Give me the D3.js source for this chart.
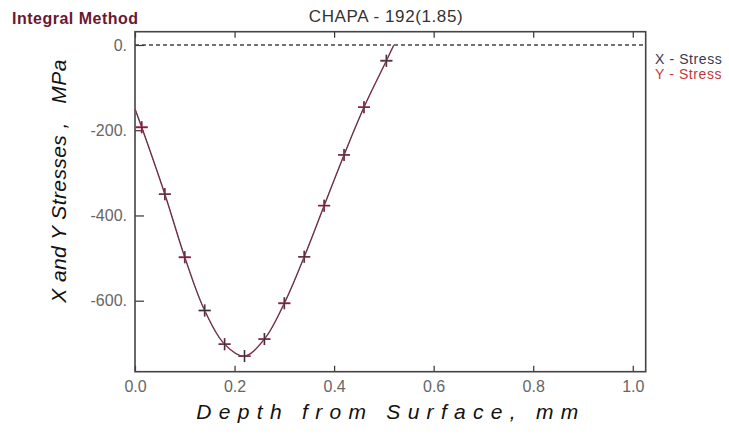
<!DOCTYPE html>
<html>
<head>
<meta charset="utf-8">
<script src="https://cdn.jsdelivr.net/npm/d3@7"></script>
<style>
  body { margin: 0; background: #fff; }
  svg text { font-family: Arial, "Liberation Sans", sans-serif; }
</style>
</head>
<body>
<div id="chart"></div>
<script>
// data
var depth = [0.0135, 0.06, 0.10, 0.14, 0.18, 0.22, 0.26, 0.30, 0.34, 0.38, 0.42, 0.46, 0.505];
var xStress = [-193, -350, -498, -623, -702, -730, -690, -606, -497, -377, -258, -146, -37];
var yStress = [-193, -350, -498, -623, -702, -730, -690, -606, -497, -377, -258, -146, -37];
// fitted curve end points
var curveDepth = [0, 0.52];
var curveStress = [-150, 0];
var xTicks = [0, 0.2, 0.4, 0.6, 0.8, 1.0];
var yTicks = [0, -200, -400, -600];
var legendNames = ["X - Stress", "Y - Stress"];

var svgWidth = 729;
var svgHeight = 434;

var margin = { top: 31.7, right: 83.3, bottom: 62.3, left: 135 };
var width = svgWidth - margin.left - margin.right;
var height = svgHeight - margin.top - margin.bottom;

var svg = d3.select("#chart").append("svg")
    .attr("width", svgWidth)
    .attr("height", svgHeight);

var chartGroup = svg.append("g")
    .attr("transform", `translate(${margin.left}, ${margin.top})`);

var xScale = d3.scaleLinear().domain([0, 1.026]).range([0, width]);
var yScale = d3.scaleLinear().domain([-766.6, 31.2]).range([height, 0]);

// axes with inner ticks
var bottomAxis = d3.axisBottom(xScale).tickValues(xTicks).tickSize(-6).tickFormat(d3.format(".1f")).tickPadding(9);
var topAxis = d3.axisTop(xScale).tickValues(xTicks).tickSize(-6).tickFormat("");
var leftAxis = d3.axisLeft(yScale).tickValues(yTicks).tickSize(-9).tickFormat(d => d + ".").tickPadding(8);

var xAxis = chartGroup.append("g")
    .attr("transform", `translate(0, ${height})`)
    .call(bottomAxis);
chartGroup.append("g").call(topAxis);
var yAxis = chartGroup.append("g").call(leftAxis);

chartGroup.selectAll(".domain").remove();
chartGroup.selectAll(".tick line").attr("stroke", "#333").attr("stroke-width", 1.2);
chartGroup.selectAll(".tick text").attr("fill", "#666").attr("font-size", "16px");

// zero line
chartGroup.append("line")
    .attr("x1", 0).attr("x2", width)
    .attr("y1", yScale(0)).attr("y2", yScale(0))
    .attr("stroke", "#444")
    .attr("stroke-width", 1.5)
    .attr("stroke-dasharray", "4,3");

// frame
chartGroup.append("rect")
    .attr("width", width).attr("height", height)
    .attr("fill", "none")
    .attr("stroke", "#444")
    .attr("stroke-width", 1.6);

// curves through the points
function curvePoints(vals) {
    var pts = [[curveDepth[0], curveStress[0]]];
    depth.forEach((d, i) => pts.push([d, vals[i]]));
    pts.push([curveDepth[1], curveStress[1]]);
    return pts;
}
var line = d3.line()
    .x(d => xScale(d[0]))
    .y(d => yScale(d[1]))
    .curve(d3.curveCatmullRom);

chartGroup.append("path")
    .datum(curvePoints(yStress))
    .attr("d", line)
    .attr("fill", "none")
    .attr("stroke", "#c45a70")
    .attr("stroke-width", 1.5);
chartGroup.append("path")
    .datum(curvePoints(xStress))
    .attr("d", line)
    .attr("fill", "none")
    .attr("stroke", "#3a3238")
    .attr("stroke-width", 0.9);

// cross markers
function crosses(vals, color, w, s) {
    var g = chartGroup.append("g");
    depth.forEach(function(d, i) {
        var cx = xScale(d), cy = yScale(vals[i]);
        g.append("path")
            .attr("d", `M${cx - s},${cy}H${cx + s}M${cx},${cy - s}V${cy + s}`)
            .attr("stroke", color)
            .attr("stroke-width", w);
    });
}
crosses(yStress, "#c8406a", 1.8, 6);
crosses(xStress, "#3a3038", 1, 6);

// titles
svg.append("text")
    .attr("x", 12).attr("y", 24)
    .attr("font-size", "16px")
    .attr("font-weight", "bold")
    .attr("letter-spacing", "0.5px")
    .attr("fill", "#6a1830")
    .text("Integral Method");

svg.append("text")
    .attr("x", 386).attr("y", 22)
    .attr("text-anchor", "middle")
    .attr("font-size", "17px")
    .attr("letter-spacing", "0.6px")
    .attr("fill", "#333")
    .text("CHAPA - 192(1.85)");

svg.append("text")
    .attr("x", 391).attr("y", 419)
    .attr("text-anchor", "middle")
    .attr("font-size", "21px")
    .attr("font-style", "italic")
    .attr("letter-spacing", "7.3px")
    .attr("fill", "#111")
    .text("Depth from Surface, mm");

svg.append("text")
    .attr("transform", "translate(66, 181) rotate(-90)")
    .attr("text-anchor", "middle")
    .attr("font-size", "21px")
    .attr("font-style", "italic")
    .attr("letter-spacing", "0.4px")
    .attr("fill", "#111")
    .attr("xml:space", "preserve")
    .text("X and Y Stresses ,   MPa");

// legend
var legendColors = ["#3a3a50", "#c03a3a"];
svg.selectAll(".legend")
    .data(legendNames)
    .enter()
    .append("text")
    .classed("legend", true)
    .attr("x", 655)
    .attr("y", (d, i) => 64 + i * 15)
    .attr("font-size", "14px")
    .attr("letter-spacing", "0.6px")
    .attr("fill", (d, i) => legendColors[i])
    .text(d => d);
</script>
</body>
</html>
